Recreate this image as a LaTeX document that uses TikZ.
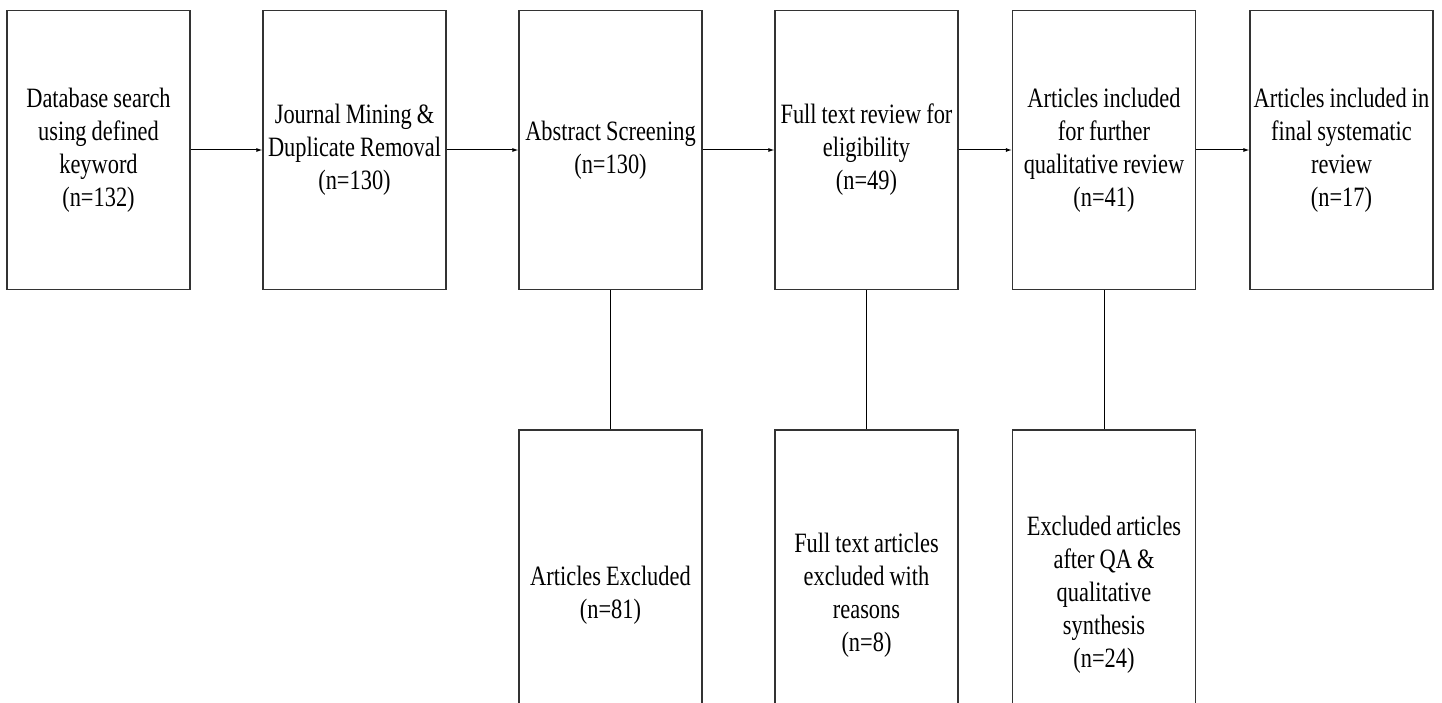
\documentclass[tikz,border=0pt]{standalone}
\usepackage{fontspec}
\setmainfont{Liberation Serif}[FakeStretch=0.8, WordSpace=0.9]
\usetikzlibrary{arrows.meta}
\tikzset{
  stagebox/.style={draw=black!80, line width=1.1pt, minimum width=183pt, minimum height=279pt,
    align=center, inner sep=0pt, font=\fontsize{28}{33}\selectfont},
  lowbox/.style={stagebox, minimum height=330pt},
  flowarrow/.style={line width=1pt, -{Latex[length=6pt,width=4pt]}},
  flowline/.style={line width=1pt}
}
\begin{document}
\begin{tikzpicture}[x=1pt,y=-1pt]
\useasboundingbox (0,0) rectangle (1442,703);
\clip (0,0) rectangle (1442,703);
\node[stagebox] (db) at (98.5,150) {Database search\\using defined\\keyword\\(n=132)};
\node[stagebox] (jm) at (354.5,150) {Journal Mining \&\\Duplicate Removal\\(n=130)};
\node[stagebox] (as) at (610.5,150) {Abstract Screening\\(n=130)};
\node[stagebox] (ft) at (866.5,150) {Full text review for\\eligibility\\(n=49)};
\node[stagebox] (ai) at (1104,150) {Articles included\\for further\\qualitative review\\(n=41)};
\node[stagebox] (fi) at (1341.5,150) {Articles included in\\final systematic\\review\\(n=17)};
\node[lowbox] (ae) at (610.5,595) {Articles Excluded\\(n=81)};
\node[lowbox] (fe) at (866.5,595) {Full text articles\\excluded with\\reasons\\(n=8)};
\node[lowbox] (ea) at (1104,595) {Excluded articles\\after QA \&\\qualitative\\synthesis\\(n=24)};
\draw[flowarrow] (db) -- (jm);
\draw[flowarrow] (jm) -- (as);
\draw[flowarrow] (as) -- (ft);
\draw[flowarrow] (ft) -- (ai);
\draw[flowarrow] (ai) -- (fi);
\draw[flowline] (as) -- (ae);
\draw[flowline] (ft) -- (fe);
\draw[flowline] (ai) -- (ea);
\end{tikzpicture}
\end{document}
